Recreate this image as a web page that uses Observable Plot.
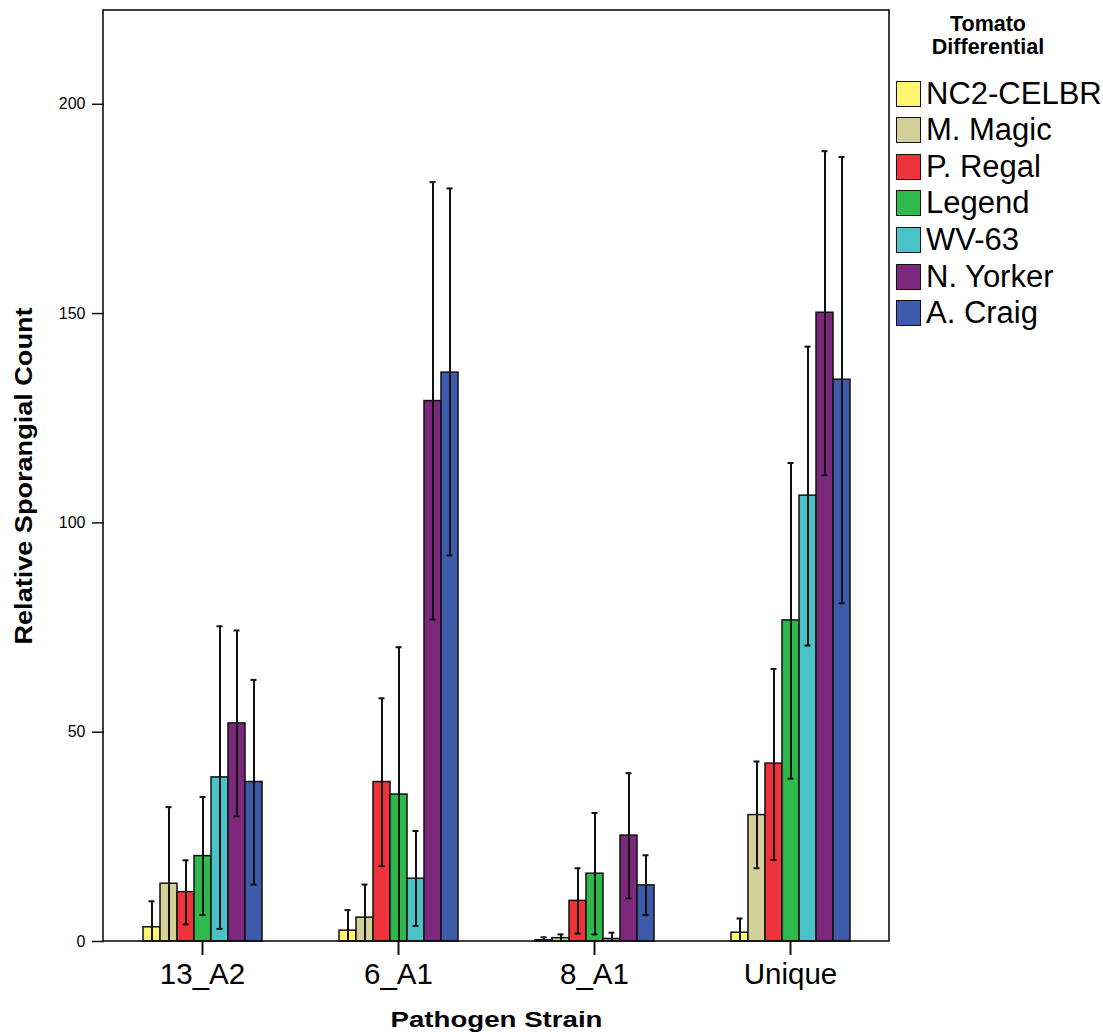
<!DOCTYPE html>
<html><head><meta charset="utf-8">
<script src="https://cdn.jsdelivr.net/npm/d3@7"></script>
<script src="https://cdn.jsdelivr.net/npm/@observablehq/plot@0.6"></script>
<style>
body{margin:0;background:#fff;}
#wrap{position:relative;width:1103px;height:1034px;overflow:hidden;font-family:"Liberation Sans",Arial,Helvetica,sans-serif;}
#wrap svg{position:absolute;left:0;top:0;}
.ltitle{position:absolute;left:883px;width:210px;text-align:center;font-weight:bold;font-size:21.5px;line-height:23px;top:13px;color:#000;}
.lrow{position:absolute;left:896px;height:27px;display:flex;align-items:center;white-space:nowrap;}
.sw{width:23px;height:24px;border:1.6px solid #111;box-sizing:content-box;margin-right:5px;}
.lt{font-size:31px;color:#000;}
</style></head><body><div id="wrap"></div>
<script>
const strains = ["13_A2", "6_A1", "8_A1", "Unique"];
const cultivars = ["NC2-CELBR", "M. Magic", "P. Regal", "Legend", "WV-63", "N. Yorker", "A. Craig"];
const colors = ["#FDF66E", "#D4CF99", "#EF333B", "#2FB84B", "#49C3C8", "#7C297C", "#3E5AAB"];

// values in cultivar order, one array per strain
const mean_13A2 = [3.4, 13.8, 11.8, 20.4, 39.2, 52.1, 38.1];
const hi_13A2   = [9.6, 32.1, 19.4, 34.5, 75.3, 74.3, 62.5];
const lo_13A2   = [-2.8, -4.5, 4.1, 6.3, 3.0, 29.9, 13.6];

const mean_6A1 = [2.6, 5.7, 38.1, 35.1, 15.0, 129.1, 135.9];
const hi_6A1   = [7.5, 13.6, 58.1, 70.3, 26.4, 181.4, 179.9];
const lo_6A1   = [-2.3, -2.2, 18.0, -0.1, 3.7, 76.9, 92.2];

const mean_8A1 = [0.3, 0.8, 9.7, 16.2, 0.6, 25.3, 13.4];
const hi_8A1   = [1.0, 1.7, 17.5, 30.7, 2.1, 40.2, 20.6];
const lo_8A1   = [-0.4, -0.1, 1.9, 1.7, -0.9, 10.3, 6.3];

const mean_Unique = [2.1, 30.2, 42.5, 76.7, 106.5, 150.2, 134.2];
const hi_Unique   = [5.5, 43.0, 65.1, 114.3, 142.1, 188.8, 187.4];
const lo_Unique   = [-1.3, 17.5, 19.5, 38.9, 70.7, 111.4, 80.8];

const yTicks = [0, 50, 100, 150, 200];

const series = {
  "13_A2": [mean_13A2, hi_13A2, lo_13A2],
  "6_A1": [mean_6A1, hi_6A1, lo_6A1],
  "8_A1": [mean_8A1, hi_8A1, lo_8A1],
  "Unique": [mean_Unique, hi_Unique, lo_Unique]
};
const rows = strains.flatMap(s => cultivars.map((c, i) => ({
  strain: s, cultivar: c, mean: series[s][0][i], hi: series[s][1][i], lo: series[s][2][i]
})));

const chart = Plot.plot({
  width: 1103, height: 1034,
  marginLeft: 103, marginRight: 214, marginTop: 10, marginBottom: 93,
  style: {fontFamily: '"Liberation Sans", Arial, sans-serif', color: "black", background: "white", overflow: "visible"},
  fx: {domain: strains, padding: 0, label: null},
  x: {domain: cultivars, paddingInner: 0, paddingOuter: 2.14, axis: null},
  y: {domain: [0, 222.4]},
  color: {domain: cultivars, range: colors},
  marks: [
    Plot.barY(rows, {fx: "strain", x: "cultivar", y: "mean", fill: "cultivar", stroke: "#111", strokeWidth: 1.5}),
    Plot.ruleX(rows, {fx: "strain", x: "cultivar", y1: "lo", y2: "hi", stroke: "#111", strokeWidth: 2, clip: true}),
    Plot.tickY(rows, {fx: "strain", x: "cultivar", y: "hi", stroke: "#111", strokeWidth: 2, insetLeft: 5.5, insetRight: 5.5}),
    Plot.tickY(rows.filter(d => d.lo > 0.5), {fx: "strain", x: "cultivar", y: "lo", stroke: "#111", strokeWidth: 2, insetLeft: 5.5, insetRight: 5.5}),
    Plot.axisY({ticks: yTicks, tickSize: 12, tickPadding: 7, fontSize: 16, stroke: "#111", strokeWidth: 1.5,
      label: "Relative Sporangial Count", labelAnchor: "center", labelArrow: "none", labelOffset: 89}),
    Plot.axisFx({anchor: "bottom", tickSize: 14, tickPadding: 8, fontSize: 29.5, stroke: "#111", strokeWidth: 2,
      label: "Pathogen Strain", labelAnchor: "center", labelArrow: "none", labelOffset: 85})
  ]
});

const svg = d3.select(chart);
svg.append("rect")
  .attr("x", 103).attr("y", 10).attr("width", 1103 - 103 - 214).attr("height", 1034 - 10 - 93)
  .attr("fill", "none").attr("stroke", "#111").attr("stroke-width", 1.6);
svg.selectAll('g[aria-label="y-axis label"] text')
  .attr("font-size", 23).attr("font-weight", "bold")
  .attr("textLength", 337).attr("lengthAdjust", "spacingAndGlyphs");
svg.selectAll('g[aria-label="fx-axis label"] text')
  .attr("font-size", 22.5).attr("font-weight", "bold")
  .attr("textLength", 212).attr("lengthAdjust", "spacingAndGlyphs");

const wrap = document.getElementById("wrap");
wrap.appendChild(chart);

const lt = document.createElement("div");
lt.className = "ltitle";
lt.innerHTML = "Tomato<br>Differential";
wrap.appendChild(lt);
cultivars.forEach((c, i) => {
  const r = document.createElement("div");
  r.className = "lrow";
  r.style.top = (80 + i * 36.6) + "px";
  const sw = document.createElement("div");
  sw.className = "sw";
  sw.style.background = colors[i];
  const t = document.createElement("span");
  t.className = "lt";
  t.textContent = c;
  r.appendChild(sw); r.appendChild(t);
  wrap.appendChild(r);
});
</script></body></html>
